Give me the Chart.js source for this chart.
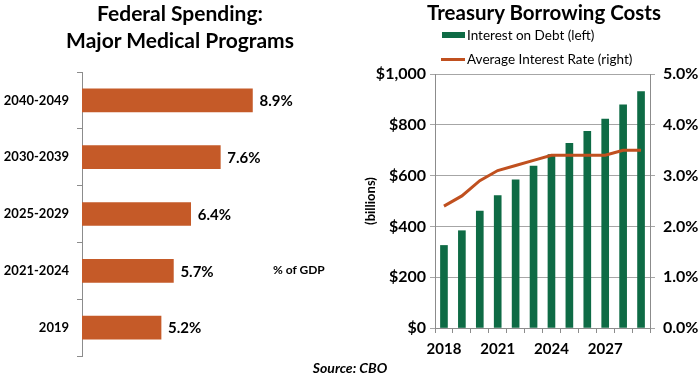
<!DOCTYPE html>
<html>
<head>
<meta charset="utf-8">
<script src="https://cdn.jsdelivr.net/npm/chart.js@4.4.1/dist/chart.umd.min.js"></script>
<style>
  html, body { margin: 0; padding: 0; background: #fff; }
  #wrap { position: relative; width: 700px; height: 378px; overflow: hidden; font-family: Lato, 'Open Sans', sans-serif; color: #000; }
  canvas { position: absolute; top: 0; }
  .txt { position: absolute; white-space: nowrap; }
  .title { font-weight: bold; font-size: 21px; line-height: 27px; text-align: center; }
  .leg { font-size: 13.5px; line-height: 16px; }
</style>
</head>
<body>
<div id="wrap">
  <canvas id="left" width="350" height="378" style="left:0"></canvas>
  <canvas id="right" width="345" height="378" style="left:355px"></canvas>
  <div class="txt title" style="left:0; width:360px; top:-1px;">Federal Spending:<br>Major Medical Programs</div>
  <div class="txt title" style="left:394px; width:300px; top:-1px; font-size:20.5px;">Treasury Borrowing Costs</div>
  <div style="position:absolute; left:442px; top:32px; width:23px; height:6px; background:#0E6B45;"></div>
  <div class="txt leg" style="left:467px; top:27px;">Interest on Debt (left)</div>
  <div style="position:absolute; left:441px; top:58px; width:24px; height:3px; background:#C0501F;"></div>
  <div class="txt leg" style="left:467px; top:51px;">Average Interest Rate (right)</div>
  <div class="txt" style="left:273px; top:262px; font-size:12px; font-weight:bold;">% of GDP</div>
  <div class="txt" style="left:300px; width:100px; text-align:center; top:359px; font-size:14px; font-weight:bold; font-style:italic;">Source: CBO</div>
</div>
<script>
// ---- Data ----
const medCategories = ['2040-2049', '2030-2039', '2025-2029', '2021-2024', '2019'];
const medValues = [8.9, 7.6, 6.4, 5.7, 5.2];

const years = ['2018', '2019', '2020', '2021', '2022', '2023', '2024', '2025', '2026', '2027', '2028', '2029'];
const interestOnDebt = [325, 383, 460, 521, 583, 637, 683, 727, 774, 823, 879, 931];
const avgInterestRate = [2.4, 2.6, 2.9, 3.1, 3.2, 3.3, 3.4, 3.4, 3.4, 3.4, 3.5, 3.5];

const leftAxisTicks = [0, 200, 400, 600, 800, 1000];
const rightAxisTicks = [0, 1, 2, 3, 4, 5];

// ---- Settings ----
const FONT = "Lato, 'Open Sans', sans-serif";
Chart.defaults.font.family = FONT;
Chart.defaults.color = '#000';
Chart.defaults.animation = false;
const GRAY = '#8C8C8C';

const valueLabels = {
  id: 'valueLabels',
  afterDatasetsDraw(chart) {
    const ctx = chart.ctx;
    const meta = chart.getDatasetMeta(0);
    ctx.save();
    ctx.font = 'bold 15px ' + FONT;
    ctx.fillStyle = '#000';
    ctx.textAlign = 'left';
    ctx.textBaseline = 'middle';
    meta.data.forEach((bar, i) => {
      ctx.fillText(medValues[i].toFixed(1) + '%', bar.x + 7, bar.y + 1);
    });
    ctx.restore();
  }
};

new Chart(document.getElementById('left'), {
  type: 'bar',
  data: {
    labels: medCategories,
    datasets: [{
      data: medValues,
      backgroundColor: '#C55A28',
      borderWidth: 0,
      barThickness: 23
    }]
  },
  options: {
    responsive: false,
    devicePixelRatio: 1,
    indexAxis: 'y',
    layout: { padding: { top: 72, bottom: 22, left: 0, right: 21 } },
    plugins: { legend: { display: false }, tooltip: { enabled: false } },
    scales: {
      x: { display: false, min: 2, max: 12 },
      y: {
        grid: { drawOnChartArea: false, tickLength: 5, color: GRAY, offset: true },
        border: { color: GRAY, width: 1 },
        ticks: { font: { size: 13, weight: 'bold' }, color: '#000', padding: 8 },
        afterFit(s) { s.width = 82; }
      }
    }
  },
  plugins: [valueLabels]
});

new Chart(document.getElementById('right'), {
  data: {
    labels: years,
    datasets: [
      {
        type: 'line',
        label: 'Average Interest Rate (right)',
        data: avgInterestRate,
        yAxisID: 'y1',
        borderColor: '#C0501F',
        borderWidth: 3,
        pointRadius: 0,
        tension: 0,
        order: 0
      },
      {
        type: 'bar',
        label: 'Interest on Debt (left)',
        data: interestOnDebt,
        yAxisID: 'y',
        backgroundColor: '#0E6B45',
        borderWidth: 0,
        barThickness: 7,
        order: 1
      }
    ]
  },
  options: {
    responsive: false,
    devicePixelRatio: 1,
    layout: { padding: { top: 74, bottom: 0, left: 0, right: 0 } },
    plugins: { legend: { display: false }, tooltip: { enabled: false } },
    scales: {
      x: {
        grid: { drawOnChartArea: false, tickLength: 5, color: GRAY, offset: true },
        border: { color: GRAY, width: 1 },
        ticks: {
          autoSkip: false, maxRotation: 0, padding: 7,
          font: { size: 15, weight: 'bold' }, color: '#000',
          callback: (v, i) => (i % 3 === 0 ? years[i] : '')
        },
        afterFit(s) { s.height = 50; }
      },
      y: {
        position: 'left',
        min: leftAxisTicks[0], max: leftAxisTicks[leftAxisTicks.length - 1],
        afterBuildTicks(s) { s.ticks = leftAxisTicks.map(v => ({ value: v })); },
        grid: { color: '#A6A6A6', tickLength: 5 },
        border: { color: GRAY, width: 1 },
        ticks: {
          padding: 4, font: { size: 16, weight: 'bold' }, color: '#000',
          callback: v => '$' + v.toLocaleString('en-US')
        },
        title: { display: true, text: '(billions)', font: { size: 13, weight: 'bold' }, color: '#000', padding: { top: 8, bottom: 0 } },
        afterFit(s) { s.width = 80; }
      },
      y1: {
        position: 'right',
        min: rightAxisTicks[0], max: rightAxisTicks[rightAxisTicks.length - 1],
        afterBuildTicks(s) { s.ticks = rightAxisTicks.map(v => ({ value: v })); },
        grid: { drawOnChartArea: false, tickLength: 5, color: '#A6A6A6' },
        border: { color: GRAY, width: 1 },
        ticks: {
          padding: 8, font: { size: 16, weight: 'bold' }, color: '#000',
          callback: v => v.toFixed(1) + '%'
        },
        afterFit(s) { s.width = 50; }
      }
    }
  }
});
</script>
</body>
</html>
